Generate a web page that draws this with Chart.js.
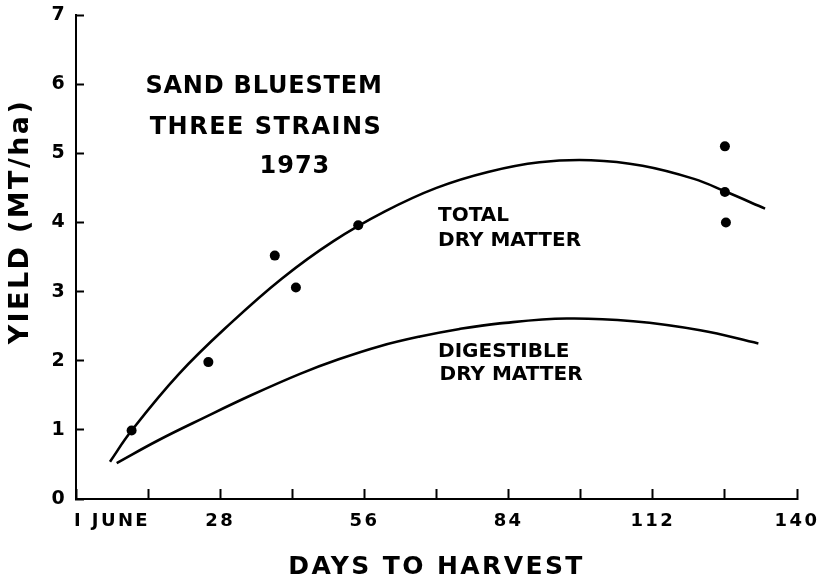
<!DOCTYPE html>
<html><head><meta charset="utf-8">
<script src="https://cdn.jsdelivr.net/npm/chart.js@4.4.1/dist/chart.umd.min.js"></script>
<style>html,body{margin:0;padding:0;background:#fff}#wrap{width:832px;height:580px}</style>
</head><body><div id="wrap"><canvas id="c" width="832" height="580"></canvas></div>
<script>
// ---- data ----
const xTickValues = [0, 7, 14, 28, 42, 56, 70, 84, 98, 112, 126, 140];
const xTickLabels = {7: 'I JUNE', 28: '28', 56: '56', 84: '84', 112: '112', 140: '140'};

const totalCurveDays  = [6.6, 10.8, 20, 30, 40, 50, 60, 70, 80, 90, 100, 110, 120, 126, 133.8];
const totalCurveYield = [0.54, 0.99, 1.81, 2.54, 3.19, 3.73, 4.16, 4.50, 4.73, 4.87, 4.90, 4.82, 4.63, 4.45, 4.20];

const digestCurveDays  = [7.9, 16, 24.7, 34, 43.5, 51, 59, 66.8, 74.5, 82.3, 95.3, 108.2, 121.2, 132.5];
const digestCurveYield = [0.52, 0.85, 1.17, 1.50, 1.81, 2.02, 2.21, 2.35, 2.46, 2.54, 2.61, 2.57, 2.44, 2.25];

const obsDays  = [10.8, 25.7, 38.6, 42.7, 54.8, 126, 126, 126.2];
const obsYield = [0.99, 1.98, 3.52, 3.06, 3.96, 5.10, 4.44, 4.00];

const noteTexts = ['SAND BLUESTEM', 'THREE STRAINS', '1973', 'TOTAL', 'DRY MATTER', 'DIGESTIBLE', 'DRY MATTER'];
const yTitle = 'YIELD (MT/ha)';
const xTitle = 'DAYS TO HARVEST';

// ---- build ----
const pts = (xs, ys) => xs.map((x, i) => ({x: x, y: ys[i]}));
const FONT = 'DejaVu Sans';

const notePlacement = [
  {x: 36.5, y: 5.96, align: 'center', size: 24, sp: 0.8},
  {x: 36.9, y: 5.37, align: 'center', size: 24, sp: 1.5},
  {x: 42.5, y: 4.80, align: 'center', size: 24, sp: 1},
  {x: 70.3, y: 4.10, align: 'left', size: 20, sp: 0},
  {x: 70.3, y: 3.74, align: 'left', size: 20, sp: 0},
  {x: 70.3, y: 2.13, align: 'left', size: 20, sp: 0},
  {x: 70.6, y: 1.79, align: 'left', size: 20, sp: 0}
];

const bgAndText = {
  id: 'bgAndText',
  beforeDraw(chart) {
    const ctx = chart.ctx;
    ctx.save();
    ctx.fillStyle = '#fff';
    ctx.fillRect(0, 0, chart.width, chart.height);
    ctx.restore();
    ctx.letterSpacing = '2.4px';
  },
  beforeDatasetsDraw(chart) {
    chart.ctx.letterSpacing = '0px';
  },
  afterDraw(chart) {
    const ctx = chart.ctx;
    const xs = chart.scales.x, ys = chart.scales.y;
    ctx.save();
    ctx.fillStyle = '#000';
    ctx.textBaseline = 'middle';
    noteTexts.forEach((t, i) => {
      const p = notePlacement[i];
      ctx.font = 'bold ' + p.size + 'px "' + FONT + '"';
      ctx.letterSpacing = p.sp + 'px';
      ctx.textAlign = p.align;
      ctx.fillText(t, xs.getPixelForValue(p.x), ys.getPixelForValue(p.y));
    });
    ctx.restore();
  }
};

new Chart(document.getElementById('c'), {
  type: 'scatter',
  data: {
    datasets: [
      {label: 'Total dry matter', data: pts(totalCurveDays, totalCurveYield), showLine: true,
       borderColor: '#000', borderWidth: 2.6, pointRadius: 0, tension: 0.4, fill: false},
      {label: 'Digestible dry matter', data: pts(digestCurveDays, digestCurveYield), showLine: true,
       borderColor: '#000', borderWidth: 2.6, pointRadius: 0, tension: 0.4, fill: false},
      {label: 'Observed', data: pts(obsDays, obsYield), showLine: false,
       pointRadius: 5, pointBackgroundColor: '#000', pointBorderColor: '#000', pointBorderWidth: 0}
    ]
  },
  options: {
    responsive: false,
    animation: false,
    devicePixelRatio: 1,
    layout: {padding: {left: 0, right: 35, top: 15, bottom: 0}},
    plugins: {legend: {display: false}, tooltip: {enabled: false}},
    scales: {
      x: {
        type: 'linear', min: 0, max: 140,
        afterBuildTicks: (s) => { s.ticks = xTickValues.map(v => ({value: v})); },
        afterFit: (s) => { s.height = 81; s.paddingLeft = 0; s.paddingRight = 0; },
        grid: {drawOnChartArea: false, drawTicks: true, tickLength: -10, tickWidth: 2,
               tickColor: (c) => (c.tick && c.tick.value === 7) ? 'rgba(0,0,0,0)' : '#000'},
        border: {display: true, color: '#000', width: 2},
        ticks: {autoSkip: false, maxRotation: 0, padding: 22, color: '#000',
                font: {family: FONT, size: 18, weight: 'bold'},
                callback: (v) => (xTickLabels[v] !== undefined ? xTickLabels[v] : '')},
        title: {display: true, text: xTitle, color: '#000',
                font: {family: FONT, size: 25, weight: 'bold', lineHeight: 1}, padding: {top: 0, bottom: 0}}
      },
      y: {
        type: 'linear', min: 0, max: 7,
        afterFit: (s) => { s.width = 76; s.paddingTop = 0; s.paddingBottom = 0; },
        grid: {drawOnChartArea: false, drawTicks: true, tickLength: -8, tickWidth: 2, tickColor: '#000'},
        border: {display: true, color: '#000', width: 2},
        ticks: {stepSize: 1, padding: 17, color: '#000', font: {family: FONT, size: 19, weight: 'bold'}},
        title: {display: true, text: '\u00a0\u00a0\u00a0\u00a0\u00a0\u00a0' + yTitle, color: '#000',
                font: {family: FONT, size: 27, weight: 'bold', lineHeight: 1}, padding: {top: 7, bottom: 0}}
      }
    }
  },
  plugins: [bgAndText]
});
</script>
</body></html>
